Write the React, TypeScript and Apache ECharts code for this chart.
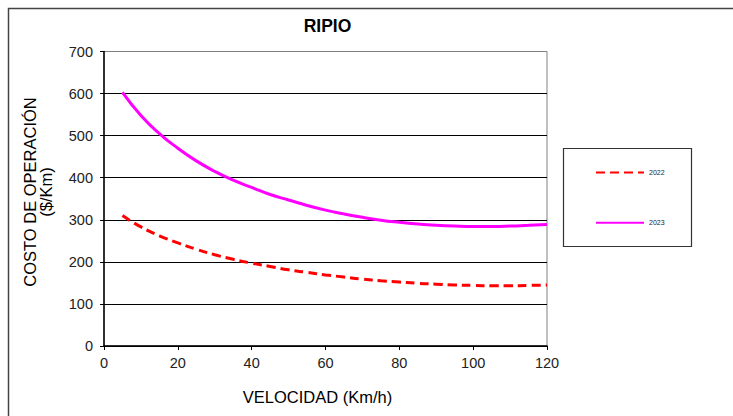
import React, { useEffect, useRef } from "react";
import * as echarts from "echarts";

const speeds = [5, 10, 15, 20, 25, 30, 35, 40, 45, 50, 55, 60, 65, 70, 75, 80, 85, 90, 95, 100, 105, 110, 115, 120];
const cost2022 = [310, 283, 262, 245, 230, 217, 206, 197, 189, 181, 175, 169, 164, 159, 155, 152, 149, 147, 145, 144, 143, 143, 144, 145];
const cost2023 = [603, 548, 505, 470, 440, 415, 394, 377, 360, 347, 334, 323, 314, 306, 299, 294, 290, 287, 285, 284, 284, 285, 287, 289];
const seriesNames = ["2022", "2023"];
const titleText = "RIPIO";
const xTitle = "VELOCIDAD (Km/h)";
const yTitle = "COSTO DE OPERACIÓN\n($/Km)";

export default function App() {
  const ref = useRef<HTMLDivElement>(null);
  useEffect(() => {
    if (!ref.current) return;
    const chart = echarts.init(ref.current, undefined, { renderer: "svg" });
    const font = "Liberation Sans, Arial, sans-serif";
    chart.setOption({
      animation: false,
      backgroundColor: "#fff",
      textStyle: { fontFamily: font },
      title: {
        text: titleText,
        left: 327.5,
        top: 17,
        padding: 0,
        textAlign: "center",
        textStyle: { fontSize: 17.5, fontWeight: "bold", color: "#000", fontFamily: font },
      },
      grid: {
        left: 104,
        top: 51.5,
        right: 186,
        bottom: 70,
        show: true,
        borderColor: "#808080",
        borderWidth: 1,
      },
      legend: {
        orient: "vertical",
        left: 595,
        top: 167,
        padding: 0,
        itemWidth: 48,
        itemHeight: 14,
        itemGap: 39,
        data: seriesNames,
        itemStyle: { opacity: 0 },
        textStyle: { fontSize: 7, color: "#222", fontFamily: font },
      },
      xAxis: {
        type: "value",
        min: 0,
        max: 120,
        interval: 20,
        axisLine: { show: true, lineStyle: { color: "#000", width: 1.5 } },
        axisTick: { show: true, length: 4, lineStyle: { color: "#000" } },
        axisLabel: { fontSize: 14.5, color: "#222", margin: 9, fontFamily: font },
        splitLine: { show: false },
      },
      yAxis: {
        type: "value",
        min: 0,
        max: 700,
        interval: 100,
        axisLine: { show: true, lineStyle: { color: "#000", width: 1.5 } },
        axisTick: { show: true, length: 4, lineStyle: { color: "#000" } },
        axisLabel: { fontSize: 14.5, color: "#222", margin: 11, fontFamily: font },
        splitLine: {
          show: true,
          lineStyle: { color: ["#000", "#000", "#000", "#000", "#000", "#000", "#000", "#808080"], width: 1 },
        },
      },
      graphic: [
        {
          type: "rect",
          shape: { x: 8.5, y: 8.5, width: 800, height: 500 },
          style: { fill: "none", stroke: "#444", lineWidth: 1.5 },
          silent: true,
        },
        {
          type: "rect",
          shape: { x: 563.5, y: 148.5, width: 128, height: 98 },
          style: { fill: "none", stroke: "#333", lineWidth: 1.2 },
          silent: true,
        },
        {
          type: "text",
          x: 317.5,
          y: 397,
          style: {
            text: xTitle,
            fontSize: 16.5,
            fill: "#000",
            fontFamily: font,
            textAlign: "center",
            textVerticalAlign: "middle",
          },
        },
        {
          type: "text",
          x: 38,
          y: 192,
          rotation: Math.PI / 2,
          style: {
            text: yTitle,
            fontSize: 16.5,
            lineHeight: 16,
            fill: "#000",
            fontFamily: font,
            textAlign: "center",
            textVerticalAlign: "middle",
          },
        },
      ],
      series: [
        {
          name: seriesNames[0],
          type: "line",
          smooth: true,
          showSymbol: false,
          symbol: "none",
          data: speeds.map((s, i) => [s, cost2022[i]]),
          lineStyle: { color: "#ff0000", width: 3, type: [9, 5] },
          itemStyle: { color: "#ff0000" },
        },
        {
          name: seriesNames[1],
          type: "line",
          smooth: true,
          showSymbol: false,
          symbol: "none",
          data: speeds.map((s, i) => [s, cost2023[i]]),
          lineStyle: { color: "#ff00ff", width: 3 },
          itemStyle: { color: "#ff00ff" },
        },
      ],
    });
    return () => chart.dispose();
  }, []);
  return (
    <div
      ref={ref}
      style={{ position: "fixed", left: 0, top: 0, width: 733, height: 416 }}
    />
  );
}
